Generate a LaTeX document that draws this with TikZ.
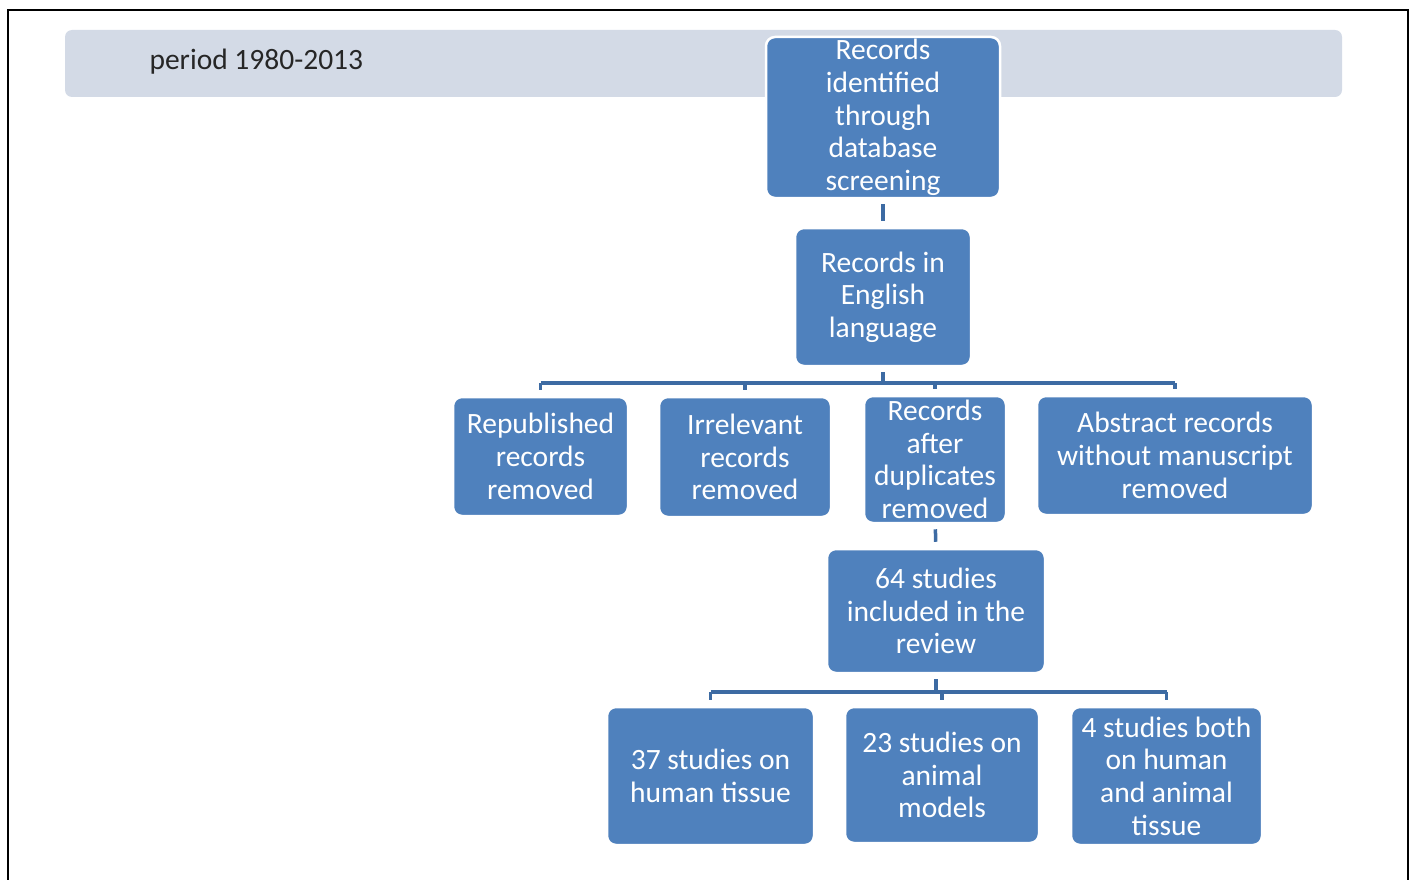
\documentclass[tikz,border=0pt]{standalone}
\usepackage{fontspec}
\setmainfont{Carlito}
\usetikzlibrary{backgrounds}
\definecolor{boxblue}{HTML}{4F81BD}
\definecolor{linkblue}{HTML}{3D6BA3}
\definecolor{bannergray}{HTML}{D3DAE6}
\begin{document}
\begin{tikzpicture}[
    x=1pt, y=-1pt,
    box/.style={draw=white, line width=2.5pt, fill=boxblue, rounded corners=9pt,
                text=white, align=center, inner sep=1pt,
                font=\fontsize{29.5}{32.7}\selectfont},
    link/.style={draw=linkblue, line width=3.5pt, shorten <=5pt, shorten >=6pt},
    bus/.style={draw=linkblue, line width=3.5pt},
    stub/.style={bus, shorten >=6pt}]
    \useasboundingbox (0,0) rectangle (1413,880);
    % frame and period banner
    \draw[line width=1.2pt] (8,900) -- (8,10) -- (1408,10) -- (1408,900);
    \fill[bannergray, rounded corners=7pt] (65,30) rectangle (1342,97);
    \node[anchor=west, text=black!85, font=\fontsize{29.5}{32}\selectfont] (period) at (146,62) {period 1980-2013};
    % boxes
    \node[box, minimum width=234pt, minimum height=161pt] (ident) at (883,117.5) {Records\\identified\\through\\database\\screening};
    \node[box, minimum width=176pt, minimum height=138pt] (eng) at (883,297) {Records in\\English\\language};
    \node[box, minimum width=175pt, minimum height=119pt] (repub) at (540.5,456.5) {Republished\\records\\removed};
    \node[box, minimum width=172pt, minimum height=120pt] (irrel) at (745,457) {Irrelevant\\records\\removed};
    \node[box, minimum width=142pt, minimum height=127pt] (dupl) at (935,459.5) {Records\\after\\duplicates\\removed};
    \node[box, minimum width=276pt, minimum height=119pt] (abstr) at (1175,455.5) {Abstract records\\without manuscript\\removed};
    \node[box, minimum width=218pt, minimum height=124pt] (incl) at (936,611) {64 studies\\included in the\\review};
    \node[box, minimum width=207pt, minimum height=138pt] (human) at (710.5,776) {37 studies on\\human tissue};
    \node[box, minimum width=194pt, minimum height=136pt] (animal) at (942,775) {23 studies on\\animal\\models};
    \node[box, minimum width=191pt, minimum height=138pt] (both) at (1166.5,776) {4 studies both\\on human\\and animal\\tissue};
    % connectors
    \begin{scope}[on background layer]
      \draw[link] (ident) -- (eng);
      \draw[link] (dupl) -- (incl);
      \coordinate (busA) at (883,383);
      \draw[link, shorten >=0pt] (eng.south) -- (busA);
      \draw[bus] (busA -| repub.north) -- (busA -| abstr.north);
      \foreach \n in {repub, irrel, dupl, abstr}
        \draw[stub] (busA -| \n.north) -- (\n.north);
      \coordinate (busB) at (936,692);
      \draw[link, shorten >=0pt] (incl.south) -- (busB);
      \draw[bus] (busB -| human.north) -- (busB -| both.north);
      \foreach \n in {human, animal, both}
        \draw[stub] (busB -| \n.north) -- (\n.north);
    \end{scope}
\end{tikzpicture}
\end{document}
